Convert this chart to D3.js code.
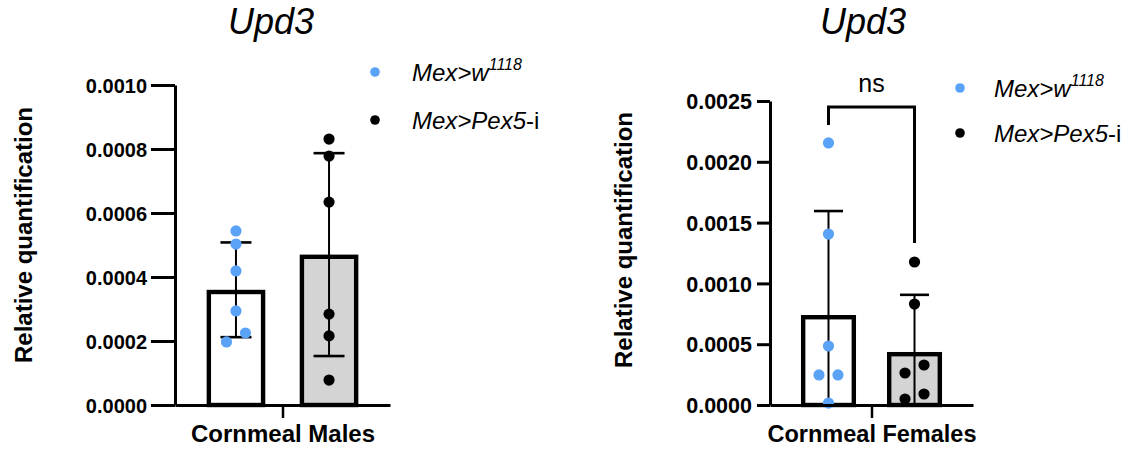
<!DOCTYPE html>
<html>
<head>
<meta charset="utf-8">
<script src="https://cdn.jsdelivr.net/npm/d3@7"></script>
<style>
  html, body { margin: 0; padding: 0; background: #fff; }
  svg { display: block; }
  text { font-family: Arial, "Liberation Sans", Helvetica, sans-serif; fill: #000; }
</style>
</head>
<body>
<svg id="chart" width="1134" height="449"></svg>
<script>
// ---- data ----
const groups = ["w1118", "Pex5-i"];
const geneTitle = "Upd3";
const yAxisTitle = "Relative quantification";

const maleCategory = "Cornmeal Males";
const maleMeans = [0.00036, 0.00047];
const maleSD = [0.000148, 0.000317];
const maleW1118 = [0.000544, 0.000503, 0.000419, 0.000294, 0.000225, 0.000197];
const malePex5 = [0.000831, 0.000778, 0.000634, 0.000284, 0.000216, 0.000078];
const maleTicks = [0, 0.0002, 0.0004, 0.0006, 0.0008, 0.0010];

const femaleCategory = "Cornmeal Females";
const femaleMeans = [0.00074, 0.000436];
const femaleSD = [0.000855, 0.00047];
const femaleW1118 = [0.002155, 0.001406, 0.000485, 0.000247, 0.000247, 0.000016];
const femalePex5 = [0.001176, 0.00083, 0.000329, 0.000263, 0.0000905, 0.000049];
const femaleTicks = [0, 0.0005, 0.0010, 0.0015, 0.0020, 0.0025];
const femaleSignif = "ns";

// ---- styles ----
const BLUE = "#5aa2f5";
const GREY = "#d4d4d4";
const fillFor = [ "#ffffff", GREY ];
const dotFor = [ BLUE, "#000000" ];
const BAR_STROKE = 4.4;

const svg = d3.select("#chart");

// spread points that would overlap horizontally (higher value goes right)
function dodge(values, y, cx, minGap, spacing) {
  const idx = values.map((v, i) => i).sort((a, b) => values[b] - values[a]);
  const out = new Array(values.length);
  let cluster = [];
  const flush = () => {
    const n = cluster.length;
    cluster.forEach((k, j) => { out[k] = { v: values[k], x: cx + ((n - 1) / 2 - j) * spacing, y: y(values[k]) }; });
    cluster = [];
  };
  idx.forEach(k => {
    if (cluster.length && Math.abs(y(values[k]) - y(values[cluster[cluster.length - 1]])) >= minGap) flush();
    cluster.push(k);
  });
  flush();
  return out;
}

function panel(opts) {
  const g = svg.append("g");
  const x = d3.scaleBand().domain(groups).range(opts.xRange)
    .paddingInner(opts.padIn).paddingOuter(opts.padOut);
  const y = d3.scaleLinear().domain(opts.yDomain).range(opts.yRange);
  const bw = x.bandwidth();
  const hs = BAR_STROKE / 2;

  // bars (outer edge of the outline sits on the mean)
  g.selectAll("rect.bar").data(groups).join("rect")
    .attr("class", "bar")
    .attr("x", d => x(d) + hs)
    .attr("width", bw - 2 * hs)
    .attr("y", (d, i) => y(opts.means[i]) + hs)
    .attr("height", (d, i) => y(0) - y(opts.means[i]) - hs)
    .attr("fill", (d, i) => fillFor[i])
    .attr("stroke", "#000")
    .attr("stroke-width", BAR_STROKE);

  // error bars (SD), clipped at zero
  groups.forEach((gName, i) => {
    const cx = x(gName) + bw / 2;
    const hi = opts.means[i] + opts.sd[i];
    const loRaw = opts.means[i] - opts.sd[i];
    const lo = Math.max(0, loRaw);
    g.append("line").attr("x1", cx).attr("x2", cx)
      .attr("y1", y(hi)).attr("y2", y(lo))
      .attr("stroke", "#000").attr("stroke-width", 2);
    g.append("line").attr("x1", cx - opts.cap / 2).attr("x2", cx + opts.cap / 2)
      .attr("y1", y(hi)).attr("y2", y(hi))
      .attr("stroke", "#000").attr("stroke-width", 2.6);
    if (loRaw > 0) {
      g.append("line").attr("x1", cx - opts.cap / 2).attr("x2", cx + opts.cap / 2)
        .attr("y1", y(lo)).attr("y2", y(lo))
        .attr("stroke", "#000").attr("stroke-width", 2.6);
    }
  });

  // individual points
  opts.points.forEach((vals, i) => {
    const cx = x(groups[i]) + bw / 2;
    const pts = dodge(vals, y, cx, 12, 19);
    g.selectAll(null).data(pts).join("circle")
      .attr("cx", d => d.x).attr("cy", d => d.y).attr("r", 5.6)
      .attr("fill", dotFor[i]);
  });

  // y axis
  const yAxis = g.append("g")
    .attr("transform", `translate(${opts.xRange[0]},0)`)
    .call(d3.axisLeft(y).tickValues(opts.ticks).tickFormat(d3.format(".4f"))
      .tickSize(opts.tickLen).tickSizeOuter(0).tickPadding(opts.tickPad));
  yAxis.select(".domain").attr("stroke-width", 3).attr("stroke", "#000");
  yAxis.selectAll(".tick line").attr("stroke-width", 3).attr("stroke", "#000");
  yAxis.selectAll(".tick text")
    .style("font-size", opts.tickFont + "px").style("font-weight", "bold")
    .attr("dy", "0.36em");

  // x axis (single category, centred)
  const xc = d3.scalePoint().domain([opts.category]).range(opts.xRange).padding(0.5);
  const xAxis = g.append("g")
    .attr("transform", `translate(0,${opts.yRange[0]})`)
    .call(d3.axisBottom(xc).tickSize(13).tickSizeOuter(0));
  xAxis.select(".domain").attr("stroke-width", 3).attr("stroke", "#000");
  xAxis.selectAll(".tick line").attr("stroke-width", 2.5).attr("stroke", "#000");
  xAxis.selectAll(".tick text")
    .attr("y", 37).attr("dy", 0)
    .style("font-size", opts.xFont + "px").style("font-weight", "bold");

  // y axis title
  g.append("text")
    .attr("transform", `translate(${opts.yTitleX},${opts.yTitleY}) rotate(-90)`)
    .attr("text-anchor", "middle")
    .style("font-size", "24px").style("font-weight", "bold")
    .text(yAxisTitle);

  // gene title
  g.append("text")
    .attr("x", opts.titleX).attr("y", 34)
    .attr("text-anchor", "middle")
    .style("font-size", "36px").style("font-style", "italic")
    .text(geneTitle);

  // legend
  const leg = g.append("g").attr("transform", `translate(${opts.legX},${opts.legY})`);
  [0, 1].forEach(i => {
    const ly = i * opts.legGap;
    leg.append("circle").attr("cx", 0).attr("cy", ly).attr("r", 4.8).attr("fill", dotFor[i]);
    const t = leg.append("text").attr("x", opts.legTextDx).attr("y", ly + 9)
      .style("font-size", "24px");
    if (i === 0) {
      t.append("tspan").style("font-style", "italic").text("Mex>w");
      t.append("tspan").style("font-style", "italic").style("font-size", "16px")
        .attr("dy", -11).text("1118");
    } else {
      t.append("tspan").style("font-style", "italic").text("Mex>Pex5");
      t.append("tspan").text("-i");
    }
  });

  return { x, y, g, bw };
}

// ---- males ----
panel({
  xRange: [175, 390], yRange: [405, 85], yDomain: [0, 0.0010],
  padIn: 0.37, padOut: 0.34,
  means: maleMeans, sd: maleSD, points: [maleW1118, malePex5],
  ticks: maleTicks, tickLen: 24, tickPad: 4, tickFont: 20, cap: 31,
  category: maleCategory, xFont: 24,
  yTitleX: 32, yTitleY: 235, titleX: 271,
  legX: 375, legY: 72, legGap: 48, legTextDx: 37
});

// ---- females ----
const fem = panel({
  xRange: [770, 973], yRange: [405, 101], yDomain: [0, 0.0025],
  padIn: 0.36, padOut: 0.36,
  means: femaleMeans, sd: femaleSD, points: [femaleW1118, femalePex5],
  ticks: femaleTicks, tickLen: 13, tickPad: 5, tickFont: 21.5, cap: 29,
  category: femaleCategory, xFont: 23.5,
  yTitleX: 632, yTitleY: 240, titleX: 863,
  legX: 960, legY: 88, legGap: 45, legTextDx: 34
});

// significance bracket between the two female groups
(function () {
  const { x, y, g, bw } = fem;
  const c0 = x(groups[0]) + bw / 2, c1 = x(groups[1]) + bw / 2;
  const top0 = Math.max(d3.max(femaleW1118), femaleMeans[0] + femaleSD[0]);
  const top1 = Math.max(d3.max(femalePex5), femaleMeans[1] + femaleSD[1]);
  const yb = y(0.0025) + 6;
  g.append("path")
    .attr("d", `M${c0},${y(top0) - 18}V${yb}H${c1}V${y(top1) - 19}`)
    .attr("fill", "none").attr("stroke", "#000").attr("stroke-width", 3);
  g.append("text").attr("x", (c0 + c1) / 2).attr("y", yb - 15)
    .attr("text-anchor", "middle").style("font-size", "25px")
    .text(femaleSignif);
})();
</script>
</body>
</html>
